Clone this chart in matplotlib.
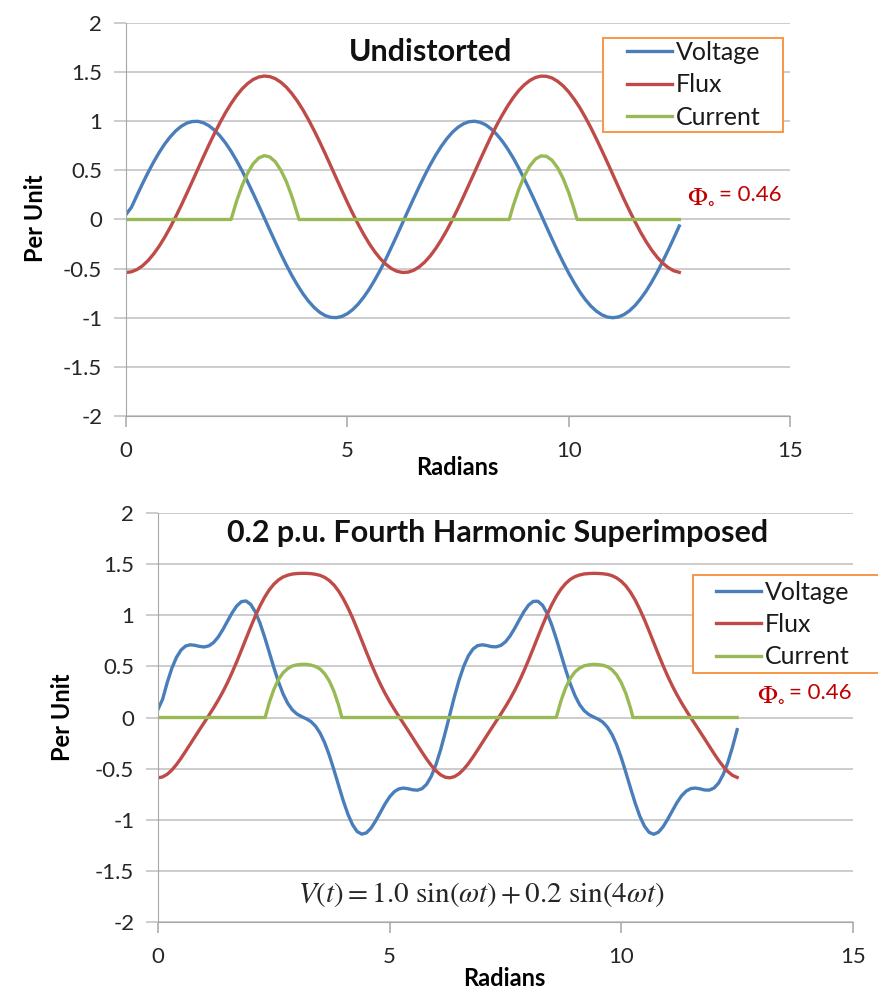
import matplotlib
matplotlib.use('Agg')
import matplotlib.pyplot as plt
from matplotlib.patches import Rectangle

plt.rcParams['font.family'] = ['Lato', 'DejaVu Sans']
plt.rcParams['mathtext.fontset'] = 'stix'

# ---- undistorted (top) ----
x1 = [0, 0.125, 0.25, 0.375, 0.5, 0.625, 0.75, 0.875,
      1.0, 1.125, 1.25, 1.375, 1.5, 1.625, 1.75, 1.875,
      2.0, 2.125, 2.25, 2.375, 2.5, 2.625, 2.75, 2.875,
      3.0, 3.125, 3.25, 3.375, 3.5, 3.625, 3.75, 3.875,
      4.0, 4.125, 4.25, 4.375, 4.5, 4.625, 4.75, 4.875,
      5.0, 5.125, 5.25, 5.375, 5.5, 5.625, 5.75, 5.875,
      6.0, 6.125, 6.25, 6.375, 6.5, 6.625, 6.75, 6.875,
      7.0, 7.125, 7.25, 7.375, 7.5, 7.625, 7.75, 7.875,
      8.0, 8.125, 8.25, 8.375, 8.5, 8.625, 8.75, 8.875,
      9.0, 9.125, 9.25, 9.375, 9.5, 9.625, 9.75, 9.875,
      10.0, 10.125, 10.25, 10.375, 10.5, 10.625, 10.75, 10.875,
      11.0, 11.125, 11.25, 11.375, 11.5, 11.625, 11.75, 11.875,
      12.0, 12.125, 12.25, 12.375, 12.5]
volt1 = [0.05, 0.125, 0.247, 0.366, 0.479, 0.585, 0.682, 0.768,
         0.841, 0.902, 0.949, 0.981, 0.997, 0.999, 0.984, 0.954,
         0.909, 0.850, 0.778, 0.694, 0.598, 0.494, 0.382, 0.263,
         0.141, 0.017, -0.108, -0.231, -0.351, -0.465, -0.572, -0.669,
         -0.757, -0.832, -0.895, -0.944, -0.978, -0.996, -0.999, -0.987,
         -0.959, -0.916, -0.859, -0.788, -0.706, -0.612, -0.510, -0.399,
         -0.279, -0.158, -0.033, 0.092, 0.215, 0.335, 0.450, 0.558,
         0.657, 0.746, 0.823, 0.888, 0.938, 0.974, 0.995, 1.000,
         0.989, 0.964, 0.922, 0.866, 0.798, 0.717, 0.625, 0.522,
         0.412, 0.295, 0.174, 0.050, -0.075, -0.199, -0.320, -0.435,
         -0.544, -0.644, -0.735, -0.814, -0.880, -0.932, -0.970, -0.993,
         -1.000, -0.992, -0.968, -0.929, -0.876, -0.808, -0.729, -0.638,
         -0.537, -0.427, -0.311, -0.190, -0.066]
flux1 = [-0.540, -0.532, -0.509, -0.471, -0.418, -0.351, -0.272, -0.181,
         -0.080, 0.029, 0.145, 0.266, 0.389, 0.514, 0.638, 0.760,
         0.876, 0.986, 1.088, 1.180, 1.261, 1.330, 1.384, 1.425,
         1.450, 1.460, 1.454, 1.433, 1.396, 1.346, 1.280, 1.203,
         1.114, 1.014, 0.906, 0.791, 0.671, 0.547, 0.422, 0.298,
         0.176, 0.059, -0.052, -0.155, -0.249, -0.331, -0.401, -0.457,
         -0.500, -0.528, -0.539, -0.536, -0.517, -0.482, -0.433, -0.370,
         -0.294, -0.206, -0.108, -0.001, 0.113, 0.233, 0.357, 0.481,
         0.606, 0.728, 0.848, 0.960, 1.062, 1.157, 1.241, 1.313,
         1.371, 1.415, 1.445, 1.459, 1.457, 1.440, 1.407, 1.360,
         1.299, 1.225, 1.140, 1.042, 0.936, 0.822, 0.703, 0.581,
         0.456, 0.331, 0.207, 0.090, -0.023, -0.129, -0.225, -0.311,
         -0.384, -0.444, -0.490, -0.522, -0.538]
xc1 = [0, 2.375, 2.5, 2.625, 2.75, 2.875, 3.0, 3.125, 3.25, 3.375, 3.5, 3.625, 3.75, 3.875, 3.909,
       8.658, 8.75, 8.875, 9.0, 9.125, 9.25, 9.375, 9.5, 9.625, 9.75, 9.875, 10.0, 10.125, 10.192,
       12.5]
cur1 = [0, 0, 0.188, 0.347, 0.473, 0.568, 0.626, 0.650, 0.636, 0.587, 0.501, 0.384, 0.232, 0.053, 0,
        0, 0.142, 0.308, 0.443, 0.546, 0.615, 0.647, 0.643, 0.603, 0.527, 0.418, 0.276, 0.104, 0,
        0]

# ---- 0.2 p.u. fourth harmonic (bottom) ----
x2 = [0, 0.1, 0.2, 0.3, 0.4, 0.5, 0.6, 0.7, 0.8, 0.9,
      1.0, 1.1, 1.2, 1.3, 1.4, 1.5, 1.6, 1.7, 1.8, 1.9,
      2.0, 2.1, 2.2, 2.3, 2.4, 2.5, 2.6, 2.7, 2.8, 2.9,
      3.0, 3.1, 3.2, 3.3, 3.4, 3.5, 3.6, 3.7, 3.8, 3.9,
      4.0, 4.1, 4.2, 4.3, 4.4, 4.5, 4.6, 4.7, 4.8, 4.9,
      5.0, 5.1, 5.2, 5.3, 5.4, 5.5, 5.6, 5.7, 5.8, 5.9,
      6.0, 6.1, 6.2, 6.3, 6.4, 6.5, 6.6, 6.7, 6.8, 6.9,
      7.0, 7.1, 7.2, 7.3, 7.4, 7.5, 7.6, 7.7, 7.8, 7.9,
      8.0, 8.1, 8.2, 8.3, 8.4, 8.5, 8.6, 8.7, 8.8, 8.9,
      9.0, 9.1, 9.2, 9.3, 9.4, 9.5, 9.6, 9.7, 9.8, 9.9,
      10.0, 10.1, 10.2, 10.3, 10.4, 10.5, 10.6, 10.7, 10.8, 10.9,
      11.0, 11.1, 11.2, 11.3, 11.4, 11.5, 11.6, 11.7, 11.8, 11.9,
      12.0, 12.1, 12.2, 12.3, 12.4, 12.5]
volt2 = [0.08, 0.178, 0.342, 0.482, 0.589, 0.661, 0.700, 0.711, 0.706, 0.695,
         0.690, 0.701, 0.733, 0.787, 0.859, 0.942, 1.023, 1.091, 1.133, 1.140,
         1.107, 1.034, 0.926, 0.790, 0.641, 0.490, 0.350, 0.231, 0.139, 0.075,
         0.034, 0.009, -0.012, -0.039, -0.084, -0.153, -0.249, -0.372, -0.515, -0.666,
         -0.815, -0.946, -1.049, -1.116, -1.141, -1.128, -1.081, -1.010, -0.928, -0.846,
         -0.776, -0.726, -0.698, -0.690, -0.697, -0.707, -0.711, -0.696, -0.652, -0.574,
         -0.461, -0.316, -0.148, 0.030, 0.207, 0.368, 0.502, 0.604, 0.670, 0.703,
         0.711, 0.704, 0.693, 0.691, 0.705, 0.740, 0.798, 0.873, 0.956, 1.036,
         1.100, 1.136, 1.137, 1.098, 1.018, 0.904, 0.766, 0.615, 0.465, 0.328,
         0.214, 0.126, 0.066, 0.029, 0.005, -0.016, -0.045, -0.094, -0.167, -0.268,
         -0.395, -0.540, -0.692, -0.838, -0.966, -1.063, -1.123, -1.142, -1.122, -1.070,
         -0.996, -0.914, -0.833, -0.766, -0.720, -0.695, -0.690, -0.698, -0.709, -0.710,
         -0.690, -0.641, -0.557, -0.439, -0.289, -0.119]
flux2 = [-0.590, -0.581, -0.555, -0.514, -0.460, -0.397, -0.328, -0.258, -0.187, -0.117,
         -0.048, 0.022, 0.093, 0.169, 0.251, 0.341, 0.440, 0.545, 0.657, 0.771,
         0.883, 0.991, 1.089, 1.175, 1.247, 1.303, 1.345, 1.374, 1.392, 1.403,
         1.408, 1.410, 1.410, 1.407, 1.401, 1.390, 1.370, 1.339, 1.295, 1.236,
         1.161, 1.073, 0.974, 0.865, 0.752, 0.638, 0.527, 0.423, 0.326, 0.237,
         0.156, 0.081, 0.010, -0.059, -0.128, -0.199, -0.270, -0.340, -0.408, -0.469,
         -0.521, -0.561, -0.584, -0.590, -0.578, -0.549, -0.505, -0.450, -0.386, -0.317,
         -0.246, -0.175, -0.105, -0.036, 0.034, 0.106, 0.182, 0.266, 0.357, 0.457,
         0.564, 0.676, 0.790, 0.902, 1.008, 1.104, 1.188, 1.257, 1.311, 1.351,
         1.378, 1.394, 1.404, 1.408, 1.410, 1.409, 1.406, 1.400, 1.387, 1.365,
         1.332, 1.286, 1.224, 1.148, 1.057, 0.956, 0.846, 0.732, 0.619, 0.509,
         0.406, 0.310, 0.223, 0.143, 0.069, -0.002, -0.071, -0.140, -0.210, -0.281,
         -0.352, -0.419, -0.479, -0.529, -0.566, -0.586]
xc2 = [0, 2.314, 2.4, 2.5, 2.6, 2.7, 2.8, 2.9, 3.0, 3.1, 3.2, 3.3, 3.4, 3.5, 3.6, 3.7, 3.8, 3.9,
       3.968, 8.596, 8.7, 8.8, 8.9, 9.0, 9.1, 9.2, 9.3, 9.4, 9.5, 9.6, 9.7, 9.8, 9.9, 10.0, 10.1,
       10.2, 10.251, 12.5]
cur2 = [0, 0, 0.143, 0.273, 0.370, 0.437, 0.478, 0.504, 0.515, 0.520, 0.520, 0.513, 0.499, 0.474,
        0.427, 0.356, 0.254, 0.118, 0, 0, 0.166, 0.291, 0.383, 0.446, 0.483, 0.506, 0.515, 0.520,
        0.517, 0.511, 0.497, 0.467, 0.416, 0.340, 0.233, 0.090, 0, 0]

xticks = [0, 5, 10, 15]
yticks = [-2, -1.5, -1, -0.5, 0, 0.5, 1, 1.5, 2]
ylabels = ['-2', '-1.5', '-1', '-0.5', '0', '0.5', '1', '1.5', '2']
names = ['Voltage', 'Flux', 'Current']
colors = ['#4A7EBB', '#BE4B48', '#98B954']
red_txt = '#C00000'
LW = 2.4


def style(ax):
    ax.set_xlim(0, 15)
    ax.set_ylim(-2, 2)
    ax.set_xticks(xticks)
    ax.set_yticks(yticks)
    ax.set_yticklabels(ylabels)
    ax.grid(axis='y', color='#BFBFBF', lw=1.1)
    ax.set_axisbelow(True)
    ax.spines['top'].set_visible(False)
    ax.spines['right'].set_visible(False)
    ax.spines['left'].set_color('#A6A6A6')
    ax.spines['bottom'].set_color('#A6A6A6')
    ax.tick_params(axis='y', length=9, width=1.1, color='#BFBFBF', labelsize=16,
                   labelcolor='#262626', pad=8)
    ax.tick_params(axis='x', length=8, width=1.1, color='#A6A6A6', labelsize=16,
                   labelcolor='#262626', pad=10)


def add_legend(ax, box, anchor):
    # Excel-style box: wide side padding, drawn as a plain rectangle
    ax.add_patch(Rectangle((box[0], box[1]), box[2] - box[0], box[3] - box[1],
                           transform=ax.transAxes, facecolor='white', edgecolor='#F79646',
                           lw=1.4, clip_on=False, zorder=4))
    leg = ax.legend(loc='upper left', bbox_to_anchor=anchor, fontsize=18, frameon=False,
                    handlelength=1.8, handletextpad=0.15, labelspacing=0.37, borderpad=0,
                    borderaxespad=0)
    leg.set_zorder(5)
    for t in leg.get_texts():
        t.set_color('#1A1A1A')


def phi_label(ax, x, y):
    t = ax.text(x, y, '= 0.46', transform=ax.transAxes, ha='right', va='center',
                fontsize=16, color=red_txt)
    ax.annotate(r'$\Phi_{\circ}$', xy=(0, 0.45), xycoords=t, xytext=(-3, 0),
                textcoords='offset points', ha='right', va='center', fontsize=19,
                color=red_txt)


fig = plt.figure(figsize=(8.79, 9.9), dpi=100)

ax1 = fig.add_axes([0.1433, 0.5798, 0.7554, 0.3970])
style(ax1)
ax1.plot(x1, volt1, color=colors[0], lw=LW, label=names[0])
ax1.plot(x1, flux1, color=colors[1], lw=LW, label=names[1])
ax1.plot(xc1, cur1, color=colors[2], lw=LW, label=names[2])
ax1.text(0.458, 0.926, 'Undistorted', transform=ax1.transAxes, ha='center', va='center',
         fontsize=22, fontweight='bold', color='#111111')
phi_label(ax1, 0.988, 0.562)
ax1.set_xlabel('Radians', fontsize=17, fontweight='bold')
ax1.xaxis.set_label_coords(0.499, -0.132)
ax1.xaxis.label.set_va('center')
ax1.set_ylabel('Per Unit', fontsize=17, fontweight='bold')
ax1.yaxis.set_label_coords(-0.136, 0.504)
ax1.yaxis.label.set_va('center')
add_legend(ax1, (0.718, 0.723, 0.989, 0.962), (0.755, 0.954))

ax2 = fig.add_axes([0.1797, 0.0687, 0.7907, 0.4131])
style(ax2)
ax2.plot(x2, volt2, color=colors[0], lw=LW, label=names[0])
ax2.plot(x2, flux2, color=colors[1], lw=LW, label=names[1])
ax2.plot(xc2, cur2, color=colors[2], lw=LW, label=names[2])
ax2.text(0.488, 0.951, '0.2 p.u. Fourth Harmonic Superimposed', transform=ax2.transAxes,
         ha='center', va='center', fontsize=22, fontweight='bold', color='#111111')
phi_label(ax2, 0.9986, 0.560)
ax2.text(0.466, 0.066, r'$V(t) = 1.0\ \sin(\omega t) + 0.2\ \sin(4\omega t)$',
         transform=ax2.transAxes, ha='center', va='center', fontsize=21, color='#262626')
ax2.set_xlabel('Radians', fontsize=17, fontweight='bold')
ax2.xaxis.set_label_coords(0.499, -0.137)
ax2.xaxis.label.set_va('center')
ax2.set_ylabel('Per Unit', fontsize=17, fontweight='bold')
ax2.yaxis.set_label_coords(-0.138, 0.501)
ax2.yaxis.label.set_va('center')
add_legend(ax2, (0.770, 0.609, 1.06, 0.848), (0.803, 0.834))

fig.savefig('out.png', dpi=100)
